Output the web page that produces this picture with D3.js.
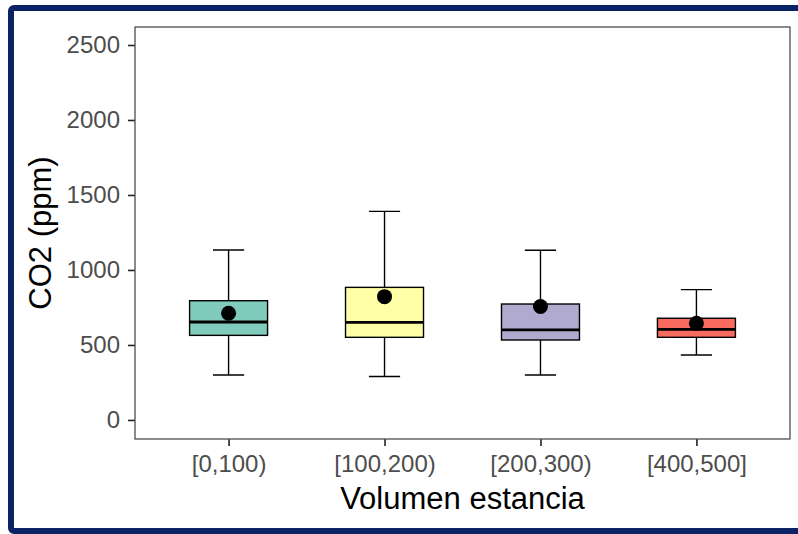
<!DOCTYPE html>
<html>
<head>
<meta charset="utf-8">
<script src="https://cdn.jsdelivr.net/npm/d3@7"></script>
<style>
  body { margin: 0; background: #fff; }
  svg { display: block; font-family: "Liberation Sans", Arial, sans-serif; }
</style>
</head>
<body>
<div id="chart"></div>
<script>
// valeurs
const categories = ["[0,100)", "[100,200)", "[200,300)", "[400,500]"];
const whiskerLow = [300, 290, 300, 433];
const q1 = [564, 551, 533, 551];
const medians = [653, 651, 600, 604];
const q3 = [795, 884, 773, 678];
const whiskerHigh = [1133, 1391, 1131, 869];
const means = [711, 822, 756, 644];
const fills = ["#80cbbc", "#ffffa8", "#b0aacf", "#f96b5f"];
const yTicks = [0, 500, 1000, 1500, 2000, 2500];

const width = 798;
const height = 534;
const margin = { top: 27, right: 8, bottom: 95, left: 135 };

const data = categories.map((c, i) => ({
  cat: c,
  low: whiskerLow[i],
  q1: q1[i],
  med: medians[i],
  q3: q3[i],
  high: whiskerHigh[i],
  mean: means[i],
  fill: fills[i],
}));

const svg = d3
  .select("#chart")
  .append("svg")
  .attr("width", width)
  .attr("height", height);

// cadre bleu autour
svg
  .append("rect")
  .attr("x", 11)
  .attr("y", 8)
  .attr("width", 820)
  .attr("height", 523)
  .attr("rx", 3)
  .style("fill", "none")
  .style("stroke", "#0b2264")
  .style("stroke-width", 6);

const x = d3
  .scalePoint()
  .domain(categories)
  .range([margin.left, width - margin.right])
  .padding(0.6);

const y = d3
  .scaleLinear()
  .domain([-127, 2620])
  .range([height - margin.bottom, margin.top]);

const step = x.step();
const boxW = step * 0.5;
const capW = step * 0.2;

// axes
const yAxis = svg
  .append("g")
  .attr("transform", "translate(" + margin.left + ",0)")
  .call(
    d3.axisLeft(y).tickValues(yTicks).tickFormat(d3.format("d")).tickSize(7).tickPadding(8)
  );

const xAxis = svg
  .append("g")
  .attr("transform", "translate(0," + (height - margin.bottom) + ")")
  .call(d3.axisBottom(x).tickSize(7).tickPadding(9));

[yAxis, xAxis].forEach((ax) => {
  ax.select(".domain").remove();
  ax.selectAll("line").style("stroke", "#222").style("stroke-width", 1.6);
  ax.selectAll("text")
    .style("fill", "#4d4d4d")
    .style("font-size", "24px")
    .style("font-family", "Liberation Sans, Arial, sans-serif");
});

// panneau
svg
  .append("rect")
  .attr("x", margin.left)
  .attr("y", margin.top)
  .attr("width", width - margin.left - margin.right)
  .attr("height", height - margin.top - margin.bottom)
  .style("fill", "none")
  .style("stroke", "#4d4d4d")
  .style("stroke-width", 1.3);

const boxes = svg
  .selectAll("g.box")
  .data(data)
  .join("g")
  .attr("class", "box");

// moustaches
boxes
  .append("line")
  .attr("x1", (d) => x(d.cat))
  .attr("x2", (d) => x(d.cat))
  .attr("y1", (d) => y(d.high))
  .attr("y2", (d) => y(d.q3))
  .style("stroke", "#000")
  .style("stroke-width", 1.4);

boxes
  .append("line")
  .attr("x1", (d) => x(d.cat))
  .attr("x2", (d) => x(d.cat))
  .attr("y1", (d) => y(d.q1))
  .attr("y2", (d) => y(d.low))
  .style("stroke", "#000")
  .style("stroke-width", 1.4);

boxes
  .selectAll("line.cap")
  .data((d) => [
    { cat: d.cat, v: d.high },
    { cat: d.cat, v: d.low },
  ])
  .join("line")
  .attr("class", "cap")
  .attr("x1", (d) => x(d.cat) - capW / 2)
  .attr("x2", (d) => x(d.cat) + capW / 2)
  .attr("y1", (d) => y(d.v))
  .attr("y2", (d) => y(d.v))
  .style("stroke", "#000")
  .style("stroke-width", 1.4);

// boites
boxes
  .append("rect")
  .attr("x", (d) => x(d.cat) - boxW / 2)
  .attr("width", boxW)
  .attr("y", (d) => y(d.q3))
  .attr("height", (d) => y(d.q1) - y(d.q3))
  .style("fill", (d) => d.fill)
  .style("stroke", "#000")
  .style("stroke-width", 1.4);

// mediane
boxes
  .append("line")
  .attr("x1", (d) => x(d.cat) - boxW / 2)
  .attr("x2", (d) => x(d.cat) + boxW / 2)
  .attr("y1", (d) => y(d.med))
  .attr("y2", (d) => y(d.med))
  .style("stroke", "#000")
  .style("stroke-width", 2.8);

// moyenne
boxes
  .append("circle")
  .attr("cx", (d) => x(d.cat))
  .attr("cy", (d) => y(d.mean))
  .attr("r", 7.5)
  .style("fill", "#000");

// titres des axes
svg
  .append("text")
  .attr("x", (margin.left + 790) / 2)
  .attr("y", 509)
  .attr("text-anchor", "middle")
  .style("font-size", "31px")
  .style("fill", "#000")
  .text("Volumen estancia");

svg
  .append("text")
  .attr("transform", "translate(51," + (margin.top + 439) / 2 + ") rotate(-90)")
  .attr("text-anchor", "middle")
  .style("font-size", "31px")
  .style("fill", "#000")
  .text("CO2 (ppm)");
</script>
</body>
</html>
